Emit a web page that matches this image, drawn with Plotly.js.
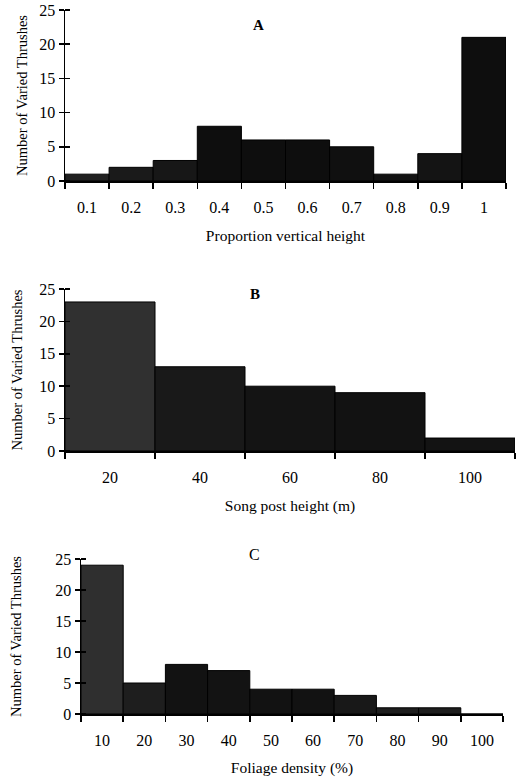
<!DOCTYPE html>
<html>
<head>
<meta charset="utf-8">
<script src="https://cdn.plot.ly/plotly-3.0.1.min.js"></script>
<style>html,body{margin:0;padding:0;background:#fff;}#chart{width:520px;height:777px;}</style>
</head>
<body>
<div id="chart"></div>
<script>
// Panel A: proportion vertical height
var heightBins = [0.1, 0.2, 0.3, 0.4, 0.5, 0.6, 0.7, 0.8, 0.9, 1.0];
var heightLabels = ["0.1", "0.2", "0.3", "0.4", "0.5", "0.6", "0.7", "0.8", "0.9", "1"];
var heightCounts = [1, 2, 3, 8, 6, 6, 5, 1, 4, 21];

// Panel B: song post height (m)
var postBins = [20, 40, 60, 80, 100];
var postLabels = ["20", "40", "60", "80", "100"];
var postCounts = [23, 13, 10, 9, 2];

// Panel C: foliage density (%)
var foliageBins = [10, 20, 30, 40, 50, 60, 70, 80, 90, 100];
var foliageLabels = ["10", "20", "30", "40", "50", "60", "70", "80", "90", "100"];
var foliageCounts = [24, 5, 8, 7, 4, 4, 3, 1, 1, 0];

var yTicks = [0, 5, 10, 15, 20, 25];

function edges(centers, w) {
  var e = centers.map(function (c) { return c - w / 2; });
  e.push(centers[centers.length - 1] + w / 2);
  return e;
}

var colA = ["#202020", "#1a1a1a", "#171717", "#0e0e0e", "#0e0e0e", "#0e0e0e", "#101010", "#121212", "#141414", "#0e0e0e"];
var colB = ["#303030", "#191919", "#141414", "#121212", "#131313"];
var colC = ["#2f2f2f", "#1e1e1e", "#121212", "#131313", "#121212", "#121212", "#181818", "#1e1e1e", "#1e1e1e", "#1e1e1e"];

var traces = [
  {type: "bar", x: heightBins, y: heightCounts, width: 0.1, xaxis: "x", yaxis: "y",
   marker: {color: colA, line: {color: "#000", width: 1}}, hoverinfo: "skip"},
  {type: "bar", x: postBins, y: postCounts, width: 20, xaxis: "x2", yaxis: "y2",
   marker: {color: colB, line: {color: "#000", width: 1}}, hoverinfo: "skip"},
  {type: "bar", x: foliageBins, y: foliageCounts, width: 10, xaxis: "x3", yaxis: "y3",
   marker: {color: colC, line: {color: "#000", width: 1}}, hoverinfo: "skip"}
];

var fam = "Liberation Serif, Times New Roman, serif";
var font = {family: fam, size: 15, color: "#000"};

function xAxis(dom, anchor, centers, labels, w, title) {
  var e = edges(centers, w);
  return {
    domain: dom, anchor: anchor, range: [e[0], e[e.length - 1]],
    tickmode: "array", tickvals: centers, ticktext: labels, ticks: "", ticklen: 0,
    ticklabelstandoff: 11,
    showline: true, linecolor: "#000", linewidth: 1.5, showgrid: false, zeroline: false,
    tickfont: {family: fam, size: 16, color: "#000"},
    minor: {tickmode: "array", tickvals: e, ticks: "outside", ticklen: 6, tickwidth: 1.5, tickcolor: "#000", showgrid: false},
    title: {text: title, font: {family: fam, size: 15.5, color: "#000"}, standoff: 15},
    fixedrange: true
  };
}
function yAxis(dom, anchor, standoff) {
  return {
    domain: dom, anchor: anchor, range: [0, 25],
    tickmode: "array", tickvals: yTicks, ticks: "outside", ticklen: 5, tickwidth: 1.5, tickcolor: "#000",
    minor: {tickmode: "array", tickvals: yTicks, ticks: "inside", ticklen: 5, tickwidth: 1.5, tickcolor: "#000", showgrid: false},
    showline: true, linecolor: "#000", linewidth: 1.5, showgrid: false, zeroline: false,
    tickfont: {family: fam, size: 16, color: "#000"},
    title: {text: "Number of Varied Thrushes", font: {family: fam, size: 14.5, color: "#000"}, standoff: standoff},
    fixedrange: true
  };
}

var layout = {
  width: 520, height: 777,
  margin: {l: 0, r: 0, t: 0, b: 0},
  paper_bgcolor: "#fff", plot_bgcolor: "#fff",
  showlegend: false, bargap: 0, font: font,
  xaxis: xAxis([65 / 520, 506 / 520], "y", heightBins, heightLabels, 0.1, "Proportion vertical height"),
  yaxis: yAxis([(777 - 181) / 777, (777 - 10) / 777], "x", 8),
  xaxis2: xAxis([65 / 520, 515 / 520], "y2", postBins, postLabels, 20, "Song post height (m)"),
  yaxis2: yAxis([(777 - 451) / 777, (777 - 289) / 777], "x2", 13),
  xaxis3: xAxis([81 / 520, 503 / 520], "y3", foliageBins, foliageLabels, 10, "Foliage density (%)"),
  yaxis3: yAxis([(777 - 714) / 777, (777 - 559) / 777], "x3", 30),
  annotations: [
    {text: "<b>A</b>", xref: "paper", yref: "paper", x: 258 / 520, y: (777 - 15) / 777, showarrow: false, font: {family: fam, size: 15, color: "#000"}},
    {text: "<b>B</b>", xref: "paper", yref: "paper", x: 255 / 520, y: (777 - 294) / 777, showarrow: false, font: {family: fam, size: 15, color: "#000"}},
    {text: "C", xref: "paper", yref: "paper", x: 254 / 520, y: (777 - 565) / 777, showarrow: false, font: {family: fam, size: 16, color: "#000"}}
  ]
};

Plotly.newPlot("chart", traces, layout, {displayModeBar: false, staticPlot: true});
</script>
</body>
</html>
